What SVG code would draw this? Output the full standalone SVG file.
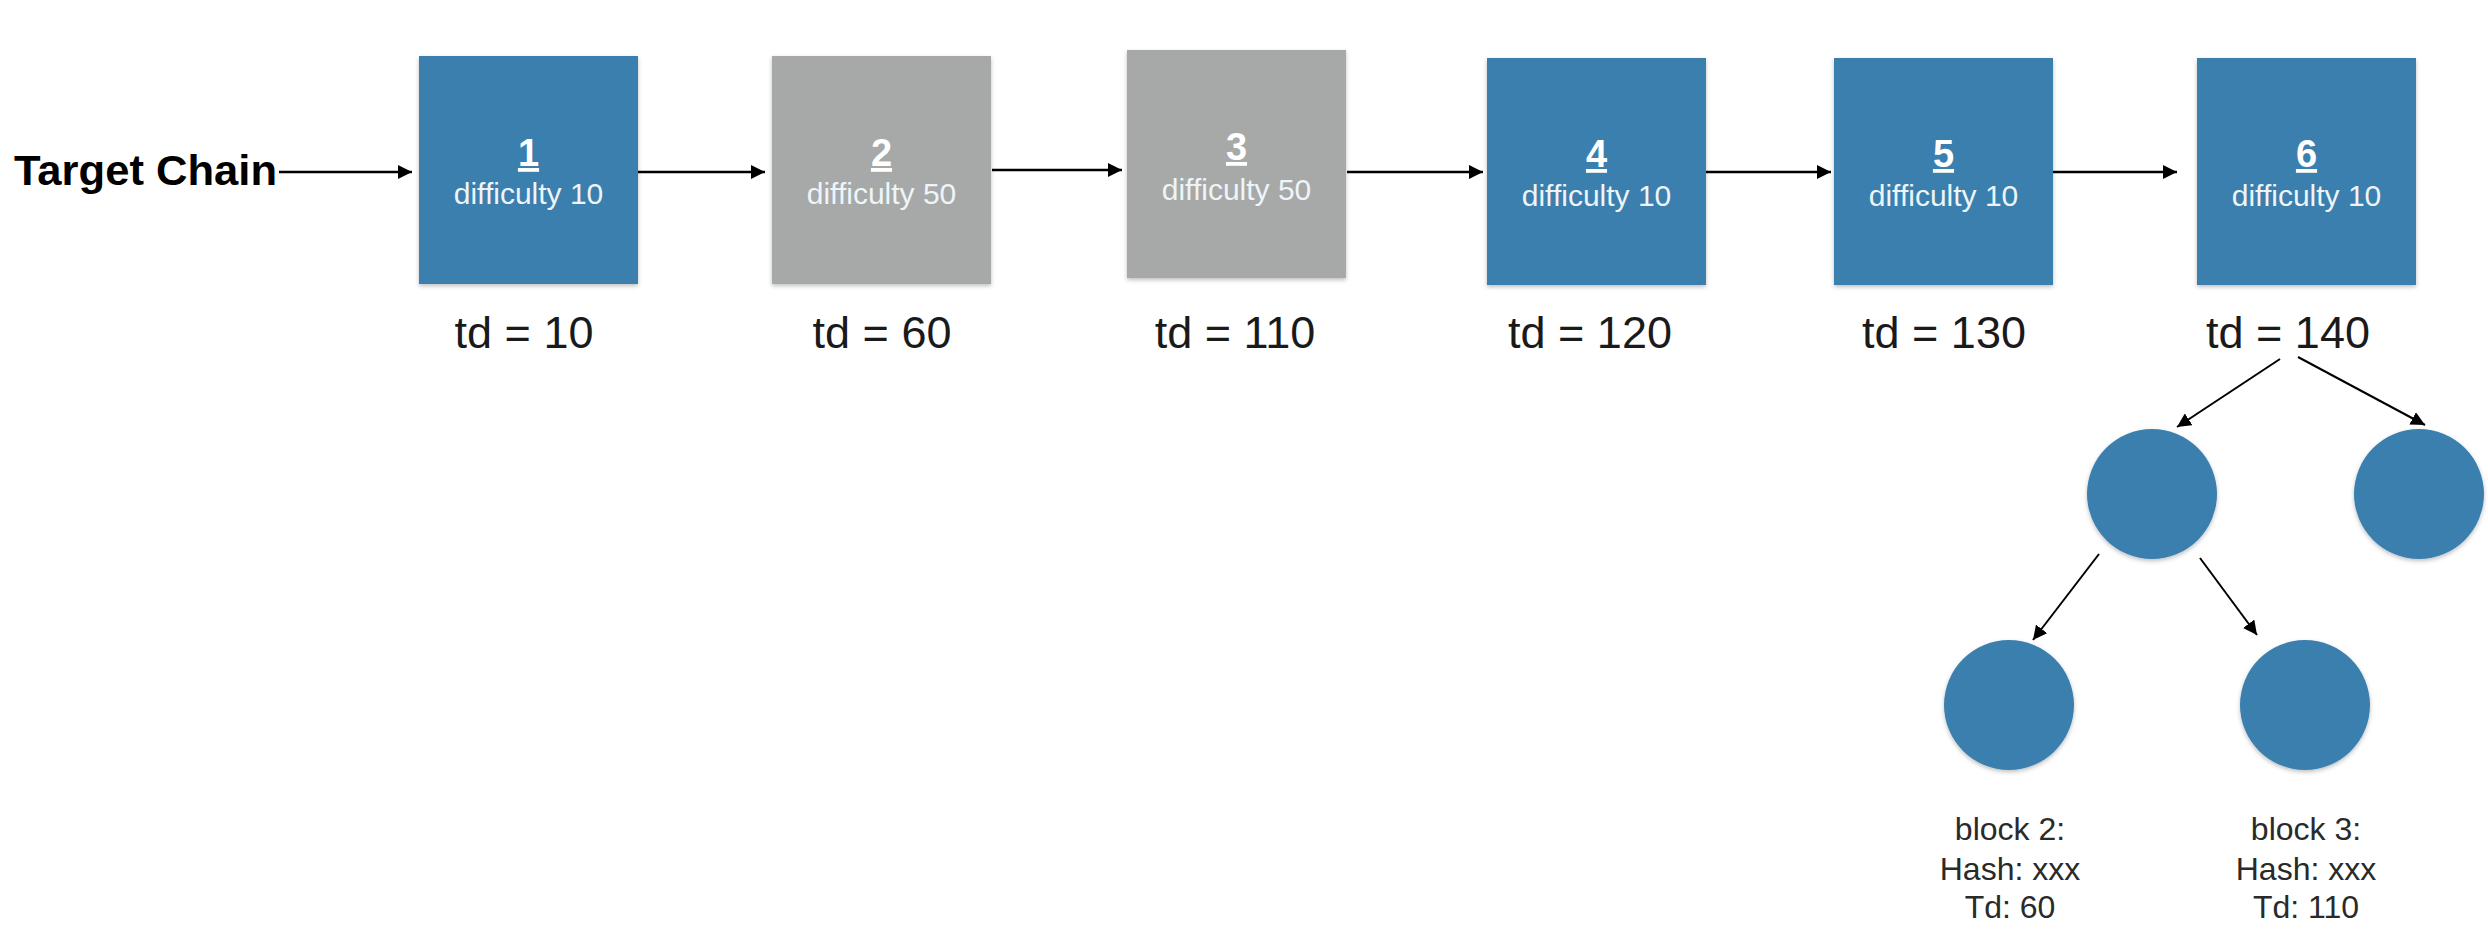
<svg xmlns="http://www.w3.org/2000/svg" width="2488" height="952" viewBox="0 0 2488 952">
<style>
  .blue{fill:#3a7fae;filter:url(#sh)}
  .gray{fill:#a6a9a8;filter:url(#sh)}
  .num{font-family:"Liberation Sans",Arial,sans-serif;font-weight:bold;font-size:38px;fill:#ffffff;text-anchor:middle;text-decoration:underline}
  .dif{font-family:"Liberation Sans",Arial,sans-serif;font-size:30px;fill:#eef4f8;text-anchor:middle}
  .td{font-family:"Liberation Sans",Arial,sans-serif;font-size:45px;fill:#1a1a1a;text-anchor:middle}
  .lbl{font-family:"Liberation Sans",Arial,sans-serif;font-size:32px;fill:#2a2a2a;text-anchor:middle}
  .title{font-family:"Liberation Sans",Arial,sans-serif;font-weight:bold;font-size:42px;fill:#000000}
  .conn line{stroke:#000000;stroke-width:2.5;fill:none;marker-end:url(#ah)}
</style>
<defs>
  <marker id="ah" markerUnits="userSpaceOnUse" markerWidth="16" markerHeight="14" refX="14" refY="7" orient="auto">
    <path d="M0,0 L14,7 L0,14 Z" fill="#000000"/>
  </marker>
  <filter id="sh" x="-10%" y="-10%" width="120%" height="120%">
    <feDropShadow dx="0" dy="2" stdDeviation="2" flood-color="#000000" flood-opacity="0.25"/>
  </filter>
</defs>
<rect width="2488" height="952" fill="#ffffff"/>

<g id="title"><text class="title" x="14" y="185" textLength="263" lengthAdjust="spacingAndGlyphs">Target Chain</text></g>

<g id="block1">
  <rect class="blue" x="419" y="56" width="219" height="228"/>
  <text class="num" x="528.5" y="166">1</text>
  <text class="dif" x="528.5" y="204">difficulty 10</text>
  <text class="td" x="524" y="348">td = 10</text>
</g>
<g id="block2">
  <rect class="gray" x="772" y="56" width="219" height="228"/>
  <text class="num" x="881.5" y="166">2</text>
  <text class="dif" x="881.5" y="204">difficulty 50</text>
  <text class="td" x="882" y="348">td = 60</text>
</g>
<g id="block3">
  <rect class="gray" x="1127" y="50" width="219" height="228"/>
  <text class="num" x="1236.5" y="160">3</text>
  <text class="dif" x="1236.5" y="200">difficulty 50</text>
  <text class="td" x="1235" y="348">td = 110</text>
</g>
<g id="block4">
  <rect class="blue" x="1487" y="58" width="219" height="227"/>
  <text class="num" x="1596.5" y="167">4</text>
  <text class="dif" x="1596.5" y="206">difficulty 10</text>
  <text class="td" x="1590" y="348">td = 120</text>
</g>
<g id="block5">
  <rect class="blue" x="1834" y="58" width="219" height="227"/>
  <text class="num" x="1943.5" y="167">5</text>
  <text class="dif" x="1943.5" y="206">difficulty 10</text>
  <text class="td" x="1944" y="348">td = 130</text>
</g>
<g id="block6">
  <rect class="blue" x="2197" y="58" width="219" height="227"/>
  <text class="num" x="2306.5" y="167">6</text>
  <text class="dif" x="2306.5" y="206">difficulty 10</text>
  <text class="td" x="2288" y="348">td = 140</text>
</g>

<g id="node-a"><circle class="blue" cx="2152" cy="494" r="65"/></g>
<g id="node-b"><circle class="blue" cx="2419" cy="494" r="65"/></g>
<g id="node-c">
  <circle class="blue" cx="2009" cy="705" r="65"/>
  <text class="lbl" x="2010" y="840">block 2:</text>
  <text class="lbl" x="2010" y="880">Hash: xxx</text>
  <text class="lbl" x="2010" y="918">Td: 60</text>
</g>
<g id="node-d">
  <circle class="blue" cx="2305" cy="705" r="65"/>
  <text class="lbl" x="2306" y="840">block 3:</text>
  <text class="lbl" x="2306" y="880">Hash: xxx</text>
  <text class="lbl" x="2306" y="918">Td: 110</text>
</g>

<g id="connectors" class="conn">
  <line x1="279" y1="172" x2="412" y2="172"/>
  <line x1="638" y1="172" x2="765" y2="172"/>
  <line x1="992" y1="170" x2="1122" y2="170"/>
  <line x1="1347" y1="172" x2="1483" y2="172"/>
  <line x1="1706" y1="172" x2="1831" y2="172"/>
  <line x1="2053" y1="172" x2="2177" y2="172"/>
  <line x1="2280" y1="359" x2="2177" y2="427" style="stroke-width:2"/>
  <line x1="2298" y1="357" x2="2425" y2="425" style="stroke-width:2"/>
  <line x1="2099" y1="554" x2="2033" y2="640" style="stroke-width:2"/>
  <line x1="2200" y1="558" x2="2257" y2="635" style="stroke-width:2"/>
</g>
</svg>
